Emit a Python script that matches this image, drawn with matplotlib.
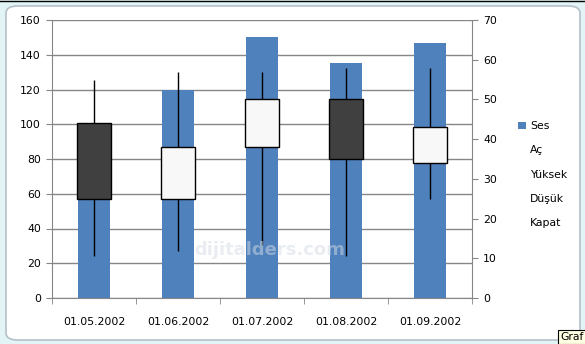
import numpy as np
import matplotlib.pyplot as plt
from matplotlib.patches import FancyBboxPatch, Patch, Rectangle
from matplotlib.lines import Line2D

# hisse senedi verisi (hacim - açılış - yüksek - düşük - kapanış)
dates = ['01.05.2002', '01.06.2002', '01.07.2002', '01.08.2002', '01.09.2002']
ses = [70, 120, 150, 135, 147]
ac = [44, 25, 38, 50, 34]
yuksek = [55, 57, 57, 58, 58]
dusuk = [10.7, 11.8, 13.3, 10.7, 25]
kapat = [25, 38, 50, 35, 43]
legend_labels = ['Ses', 'Aç', 'Yüksek', 'Düşük', 'Kapat']

W, H = 585, 344
fs = 7.8
fig = plt.figure(figsize=(W / 100, H / 100), dpi=100)
fig.patch.set_facecolor('#e2f4f6')

# çerçeve
frame = FancyBboxPatch((6 / W, 4 / H), 574 / W, 334 / H,
                       boxstyle='round,pad=0,rounding_size=0.02',
                       transform=fig.transFigure, facecolor='white',
                       edgecolor='#b4c0c8', lw=1.2, zorder=0)
fig.add_artist(frame)
fig.add_artist(Line2D([0, 1], [1 - 0.5 / H, 1 - 0.5 / H], color='black', lw=1,
                      transform=fig.transFigure))

ax = fig.add_axes([52 / W, 46 / H, 420 / W, 278 / H])
ax.set_facecolor('none')
x = np.arange(len(dates))

grid_c = '#868686'
ax.bar(x, ses, width=0.39, color='#4f81bd', zorder=2)
ax.set_ylim(0, 160)
ax.set_yticks(range(0, 161, 20))
ax.set_xlim(-0.5, len(dates) - 0.5)
ax.grid(axis='y', color=grid_c, lw=1, zorder=0)
ax.set_axisbelow(True)
ax.set_xticks(x)
ax.set_xticklabels(dates)
ax.set_xticks(np.arange(-0.5, len(dates)), minor=True)
ax.tick_params(axis='x', which='major', length=0, pad=14, labelsize=fs)
ax.tick_params(axis='x', which='minor', length=4, color=grid_c)
ax.tick_params(axis='y', length=4, color=grid_c, labelsize=fs, pad=4)
for s in ['left', 'bottom']:
    ax.spines[s].set_color(grid_c)
for s in ['top', 'right']:
    ax.spines[s].set_visible(False)

ax2 = ax.twinx()
ax2.set_ylim(0, 70)
ax2.set_yticks(range(0, 71, 10))
ax2.tick_params(axis='y', length=4, color=grid_c, labelsize=fs, pad=4)
ax2.spines['right'].set_color(grid_c)
for s in ['top', 'left', 'bottom']:
    ax2.spines[s].set_visible(False)

ax2.vlines(x, dusuk, yuksek, color='black', lw=1, zorder=3)
lo = np.minimum(ac, kapat)
hi = np.maximum(ac, kapat)
cols = ['#404040' if k < a else '#f8f8f8' for a, k in zip(ac, kapat)]
ax2.bar(x, hi - lo, bottom=lo, width=0.41, color=cols, edgecolor='black',
        lw=1, zorder=4)

# filigran
fig.text(270 / W, 1 - 250 / H, 'dijitalders.com', fontsize=13, fontweight='bold',
         color='#d4dae2', alpha=0.5, ha='center', va='center', zorder=10)

handles = [Patch(facecolor='#4f81bd')] + [Line2D([], [], color='none')] * 4
fig.legend(handles, legend_labels, loc='upper left',
           bbox_to_anchor=(514 / W, 1 - 117 / H), frameon=False,
           fontsize=fs, handlelength=0.7, handleheight=0.7,
           handletextpad=0.4, labelspacing=1.3, borderaxespad=0)

# ipucu kutusu
fig.text(560 / W, 1 - 337 / H, 'Graf', fontsize=fs, va='center', ha='left',
         bbox=dict(boxstyle='square,pad=0.2', facecolor='#ffffe1',
                   edgecolor='black', lw=0.8))

fig.savefig('out.png', dpi=100, facecolor=fig.get_facecolor())
